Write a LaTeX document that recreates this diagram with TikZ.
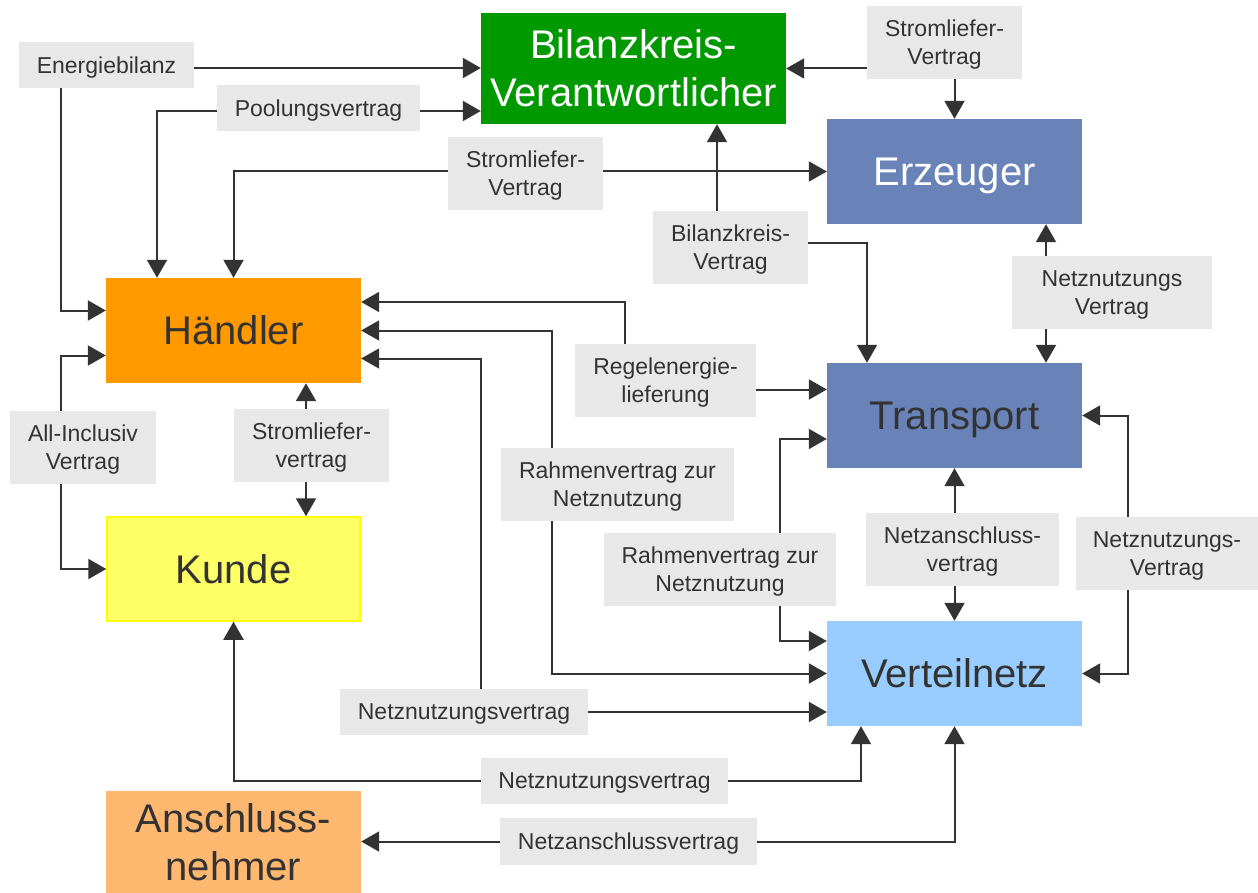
\documentclass[tikz,border=0pt]{standalone}
\usepackage{fontspec}
\setmainfont{Liberation Sans}
\usetikzlibrary{arrows.meta, positioning}
\definecolor{ink}{HTML}{333333}
\definecolor{tagfill}{HTML}{E8E8E8}
\definecolor{bkvgreen}{HTML}{009900}
\definecolor{netblue}{HTML}{6983B9}
\definecolor{traderorange}{HTML}{FF9900}
\definecolor{clientyellow}{HTML}{FFFF66}
\definecolor{clientborder}{HTML}{FFFF00}
\definecolor{gridblue}{HTML}{99CCFF}
\definecolor{ownersalmon}{HTML}{FFB870}
\tikzset{
  actor/.style = {rectangle, inner sep=0pt, align=center, minimum width=255pt, minimum height=105pt, text depth=0pt, font=\fontsize{40}{48}\selectfont, text=ink},
  contract/.style = {rectangle, fill=tagfill, inner sep=0pt, align=center, minimum height=73pt, text depth=0pt, font=\fontsize{23}{28}\selectfont, text=ink},
  line/.style = {-{Triangle[length=18pt, width=20pt]}, line width=2pt, draw=ink}
}

\begin{document}
\begin{tikzpicture}[x=1pt, y=-1pt]
\useasboundingbox (0,0) rectangle (1258,893);

% Market roles
\node[actor, fill=bkvgreen, text=white, minimum width=305pt, minimum height=111pt] (bkv) at (633.5,68.5) {Bilanzkreis-\\Verantwortlicher};
\node[actor, fill=netblue, text=white] (erz) at (954.5,171.5) {Erzeuger};
\node[actor, fill=traderorange] (haendler) at (233.5,330.5) {Händler};
\node[actor, fill=netblue] (transport) at (954.5,415.5) {Transport};
\node[actor, fill=clientyellow, draw=clientborder, line width=1.5pt, minimum width=253pt, minimum height=104pt] (kunde) at (233.5,569) {Kunde};
\node[actor, fill=gridblue] (vnetz) at (954.5,673.5) {Verteilnetz};
\node[actor, fill=ownersalmon, minimum height=102pt] (anschl) at (233.5,842) {Anschluss-\\nehmer};

% Contracts
\node[contract, minimum width=175pt, minimum height=46pt] (lEnergie) at (106.5,65) {Energiebilanz};
\node[contract, minimum width=203pt, minimum height=46pt] (lPool) at (318.5,108) {Poolungsvertrag};
\node[contract, minimum width=155pt] (lSLtop) at (944.5,42.5) {Stromliefer-\\Vertrag};
\node[contract, minimum width=155pt] (lSLmid) at (525.5,173.5) {Stromliefer-\\Vertrag};
\node[contract, minimum width=155pt] (lBKV) at (730.5,247.5) {Bilanzkreis-\\Vertrag};
\node[contract, minimum width=200pt] (lNNerz) at (1112,292.5) {Netznutzungs\\Vertrag};
\node[contract, minimum width=146pt] (lAllInc) at (83,447.5) {All-Inclusiv\\Vertrag};
\node[contract, minimum width=155pt] (lSLkunde) at (311.5,445.5) {Stromliefer-\\vertrag};
\node[contract, minimum width=181pt] (lRegel) at (665.5,380.5) {Regelenergie-\\lieferung};
\node[contract, minimum width=233pt] (lRahmen1) at (617.5,484.5) {Rahmenvertrag zur\\Netznutzung};
\node[contract, minimum width=232pt] (lRahmen2) at (720,569.5) {Rahmenvertrag zur\\Netznutzung};
\node[contract, minimum width=193pt] (lNAtrans) at (962.5,549.5) {Netzanschluss-\\vertrag};
\node[contract, minimum width=182pt] (lNNtrans) at (1167,553.5) {Netznutzungs-\\Vertrag};
\node[contract, minimum width=248pt, minimum height=46pt] (lNN1) at (464,712) {Netznutzungsvertrag};
\node[contract, minimum width=247pt, minimum height=46pt] (lNN2) at (604.5,781) {Netznutzungsvertrag};
\node[contract, minimum width=257pt, minimum height=47pt] (lNA) at (628.5,841.5) {Netzanschlussvertrag};

% Arrows
\draw[line] ([yshift=-3pt]lEnergie.east) -- ([yshift=-3pt]lEnergie.east -| bkv.west);
\draw[line] (lEnergie.south -| 61,0) |- ([yshift=20pt]haendler.west);

\draw[line] ([yshift=-3pt]lPool.east) -- ([yshift=-3pt]lPool.east -| bkv.west);
\draw[line] ([yshift=-3pt]lPool.west) -| ([xshift=-76.5pt]haendler.north);

\draw[line] (lSLtop.west |- bkv.east) -- (bkv.east);
\draw[line] (lSLtop.south -| erz.north) -- (erz.north);

\draw[line] ([yshift=2pt]lSLmid.east) -- ([yshift=2pt]lSLmid.east -| erz.west);
\draw[line] ([yshift=2pt]lSLmid.west) -| (haendler.north);

\draw[line] (lBKV.north -| 717,0) -- (bkv.south -| 717,0);
\draw[line] ([yshift=4.5pt]lBKV.east) -| ([xshift=-87.5pt]transport.north);

\draw[line] (lNNerz.north -| 1046,0) -- (erz.south -| 1046,0);
\draw[line] (lNNerz.south -| 1046,0) -- (transport.north -| 1046,0);

\draw[line] (lAllInc.north -| 61,0) |- ([yshift=-25pt]haendler.west);
\draw[line] (lAllInc.south -| 61,0) |- (kunde.west);

\draw[line] (lSLkunde.north -| 306,0) -- (haendler.south -| 306,0);
\draw[line] (lSLkunde.south -| 306,0) -- (kunde.north -| 306,0);

\draw[line] (lRegel.north -| 625,0) |- ([yshift=28.5pt]haendler.east);
\draw[line] ([yshift=-9pt]lRegel.east) -- ([yshift=-9pt]lRegel.east -| transport.west);

\draw[line] (lRahmen1.north -| 552,0) |- (haendler.east);
\draw[line] (lRahmen1.south -| 552,0) |- (vnetz.west);

\draw[line] (lNN1.north -| 481,0) |- ([yshift=-28pt]haendler.east);
\draw[line] (lNN1.east) -- (lNN1.east -| vnetz.west);

\draw[line] (lRahmen2.north -| 780,0) |- ([yshift=-23.5pt]transport.west);
\draw[line] (lRahmen2.south -| 780,0) |- ([yshift=32.5pt]vnetz.west);

\draw[line] (lNAtrans.north -| transport.south) -- (transport.south);
\draw[line] (lNAtrans.south -| vnetz.north) -- (vnetz.north);

\draw[line] (lNNtrans.north -| 1128,0) |- (transport.east);
\draw[line] (lNNtrans.south -| 1128,0) |- (vnetz.east);

\draw[line] (lNN2.west) -| (kunde.south);
\draw[line] (lNN2.east) -| ([xshift=-93.5pt]vnetz.south);

\draw[line] (lNA.east) -| (vnetz.south);
\draw[line] (lNA.west) -- (lNA.west -| anschl.east);

\end{tikzpicture}
\end{document}
